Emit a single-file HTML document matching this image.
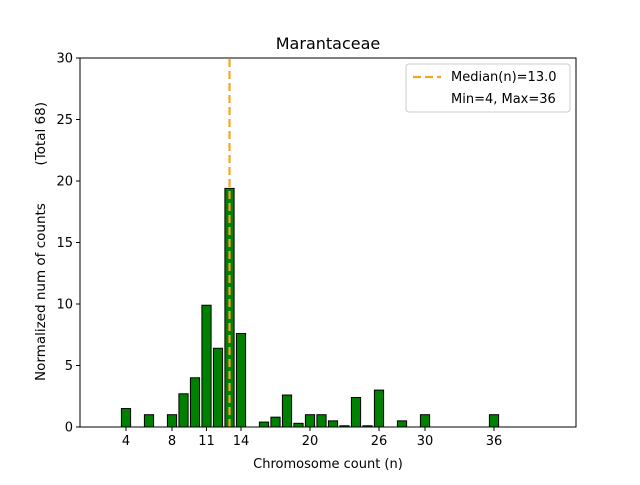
<!DOCTYPE html>
<html><head><meta charset="utf-8"><style>
body{margin:0;background:#fff;}
svg{font-family:"DejaVu Sans","Liberation Sans",sans-serif;}
</style></head><body>
<svg id="chart" width="640" height="480">
<rect width="640" height="480" fill="#fff"/>
<text x="328" y="49" font-size="16" text-anchor="middle">Marantaceae</text>
<g id="bars"></g>
<line id="median" stroke="#f5a623" stroke-width="2.2" stroke-dasharray="8,4"/>
<rect x="80" y="58" width="496" height="369" fill="none" stroke="#000" stroke-width="1"/>
<g id="xt" font-size="13"></g>
<g id="yt" font-size="13"></g>
<text x="328" y="468" font-size="13" text-anchor="middle">Chromosome count (n)</text>
<g>
<text transform="translate(45,381) rotate(-90)" font-size="13.5" text-anchor="start">Normalized num of counts</text>
<text transform="translate(45,102) rotate(-90)" font-size="13.5" text-anchor="end">(Total 68)</text>
</g>
<g>
<rect x="406" y="64" width="164" height="48" rx="3" fill="#fff" stroke="#ccc"/>
<line x1="413" y1="77" x2="441" y2="77" stroke="#f5a623" stroke-width="2.2" stroke-dasharray="8,4"/>
<text x="451" y="81" font-size="13">Median(n)=13.0</text>
<text x="451" y="103" font-size="13">Min=4, Max=36</text>
</g>
</svg>
<script>
const categories=[4,6,8,9,10,11,12,13,14,16,17,18,19,20,21,22,23,24,25,26,28,30,36];
const values=[1.5,1.0,1.0,2.7,4.0,9.9,6.4,19.4,7.6,0.4,0.8,2.6,0.3,1.0,1.0,0.5,0.1,2.4,0.1,3.0,0.5,1.0,1.0];
const xTicks=[4,8,11,14,20,26,30,36];
const yTicks=[0,5,10,15,20,25,30];
const median=13.0;
const NS='http://www.w3.org/2000/svg';
const X0=80,X1=576,Y0=427,Y1=58,xmax=43.13,ymax=30;
const sx=v=>X0+v*(X1-X0)/xmax, sy=v=>Y0-v*(Y0-Y1)/ymax;
const bars=document.getElementById('bars');
categories.forEach((c,i)=>{
 const r=document.createElementNS(NS,'rect');
 r.setAttribute('x',sx(c-0.4));r.setAttribute('width',sx(0.8)-X0);
 r.setAttribute('y',sy(values[i]));r.setAttribute('height',Y0-sy(values[i]));
 r.setAttribute('fill','#008000');r.setAttribute('stroke','#000');r.setAttribute('stroke-width','1');
 
 
 bars.appendChild(r);
});
const m=document.getElementById('median');
m.setAttribute('x1',sx(median));m.setAttribute('x2',sx(median));m.setAttribute('y1',Y0);m.setAttribute('y2',Y1);
const xt=document.getElementById('xt');
xTicks.forEach(t=>{
 const l=document.createElementNS(NS,'line');
 l.setAttribute('x1',sx(t));l.setAttribute('x2',sx(t));l.setAttribute('y1',Y0);l.setAttribute('y2',Y0+4);l.setAttribute('stroke','#000');
 
 
 xt.appendChild(l);
 const s=document.createElementNS(NS,'text');
 s.setAttribute('x',sx(t));s.setAttribute('y',Y0+18);s.setAttribute('text-anchor','middle');s.textContent=t;
 
 
 xt.appendChild(s);
});
const yt=document.getElementById('yt');
yTicks.forEach(t=>{
 const l=document.createElementNS(NS,'line');
 l.setAttribute('x1',X0-4);l.setAttribute('x2',X0);l.setAttribute('y1',sy(t));l.setAttribute('y2',sy(t));l.setAttribute('stroke','#000');
 
 
 yt.appendChild(l);
 const s=document.createElementNS(NS,'text');
 s.setAttribute('x',X0-7);s.setAttribute('y',sy(t)+4.5);s.setAttribute('text-anchor','end');s.textContent=t;
 
 
 yt.appendChild(s);
});
</script>
</body></html>
